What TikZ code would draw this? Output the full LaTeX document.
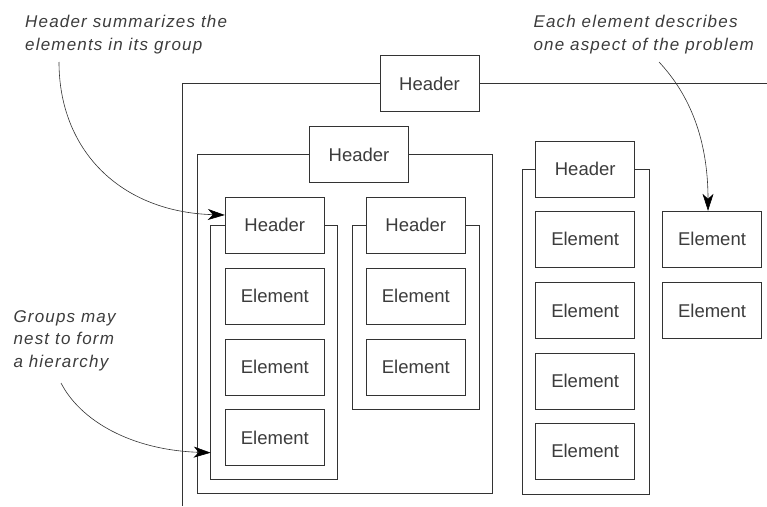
\documentclass[tikz,border=0pt]{standalone}
\usepackage{fontspec}
\setmainfont{Liberation Sans}
\newfontfamily\notefamily[LetterSpace=7]{Liberation Sans}
\usetikzlibrary{arrows.meta}
\definecolor{ink}{HTML}{333333}
\definecolor{label}{HTML}{3C3C3C}
\newcommand\boxfont{\fontsize{18.5}{22}\selectfont}
\newcommand\notefont{\notefamily\itshape\fontsize{17}{22.8}\selectfont}
\begin{document}
\begin{tikzpicture}[x=1pt,y=-1pt,
  box/.style={draw=ink, line width=1pt, fill=white, minimum width=99pt,
    minimum height=56pt, inner sep=0pt, font=\boxfont, text=label},
  frame/.style={draw=ink, line width=1pt},
  note/.style={font=\notefont, text=label, align=left, anchor=north west, inner sep=0pt},
  pointer/.style={draw=ink, line width=0.6pt,
    -{Stealth[length=17pt,width=11pt,inset=5pt,color=black]}}]
\useasboundingbox (0,0) rectangle (767,506);

% headers of the nested groups
\node[box] (h1) at (429.5,83.5) {Header};
\node[box] (h2) at (359,154.5) {Header};
\node[box] (h3) at (274.8,225) {Header};
\node[box] (h4) at (415.8,225) {Header};
\node[box] (h5) at (585.2,169.3) {Header};

% group frames hanging off their headers
\draw[frame] (h1.west) -- (182.3,83.5) -- (182.3,506);
\draw[frame] (h1.east) -- (767,83.5);
\draw[frame] (h2.west) -- (197.3,154.5) -- (197.3,493.5) -- (492.7,493.5) -- (492.7,154.5) -- (h2.east);
\draw[frame] (h3.west) -- (210.7,225) -- (210.7,479) -- (337.3,479) -- (337.3,225) -- (h3.east);
\draw[frame] (h4.west) -- (352.3,225) -- (352.3,409.7) -- (479.3,409.7) -- (479.3,225) -- (h4.east);
\draw[frame] (h5.west) -- (522.3,169.3) -- (522.3,494) -- (649.3,494) -- (649.3,169.3) -- (h5.east);

% elements
\node[box] (e31) at (274.8,296) {Element};
\node[box] (e32) at (274.8,367) {Element};
\node[box] (e33) at (274.8,437.7) {Element};
\node[box] (e41) at (415.8,296) {Element};
\node[box] (e42) at (415.8,367) {Element};
\node[box] (e51) at (585.2,239.3) {Element};
\node[box] (e52) at (585.2,310.8) {Element};
\node[box] (e53) at (585.2,381) {Element};
\node[box] (e54) at (585.2,451) {Element};
\node[box] (se1) at (712,239.3) {Element};
\node[box] (se2) at (712,310.8) {Element};

% annotations
\node[note] (n1) at (25,15) {Header summarizes the\\elements in its group};
\node[note] (n2) at (13.3,310) {Groups may\\nest to form\\a hierarchy};
\node[note] (n3) at (533.3,15) {Each element describes\\one aspect of the problem};

\coordinate (p1) at (59,62);
\coordinate (p2) at (61,383);
\coordinate (p3) at (659,62);
\coordinate (g3edge) at (210.7,452.7);

\draw[pointer] (p1) .. controls (59,150) and (120,212) .. ([yshift=10pt]h3.west);
\draw[pointer] (p2) .. controls (80,420) and (130,450) .. (g3edge);
\draw[pointer] (p3) .. controls (690,95) and (708,140) .. ([xshift=-4pt]se1.north);
\end{tikzpicture}
\end{document}
